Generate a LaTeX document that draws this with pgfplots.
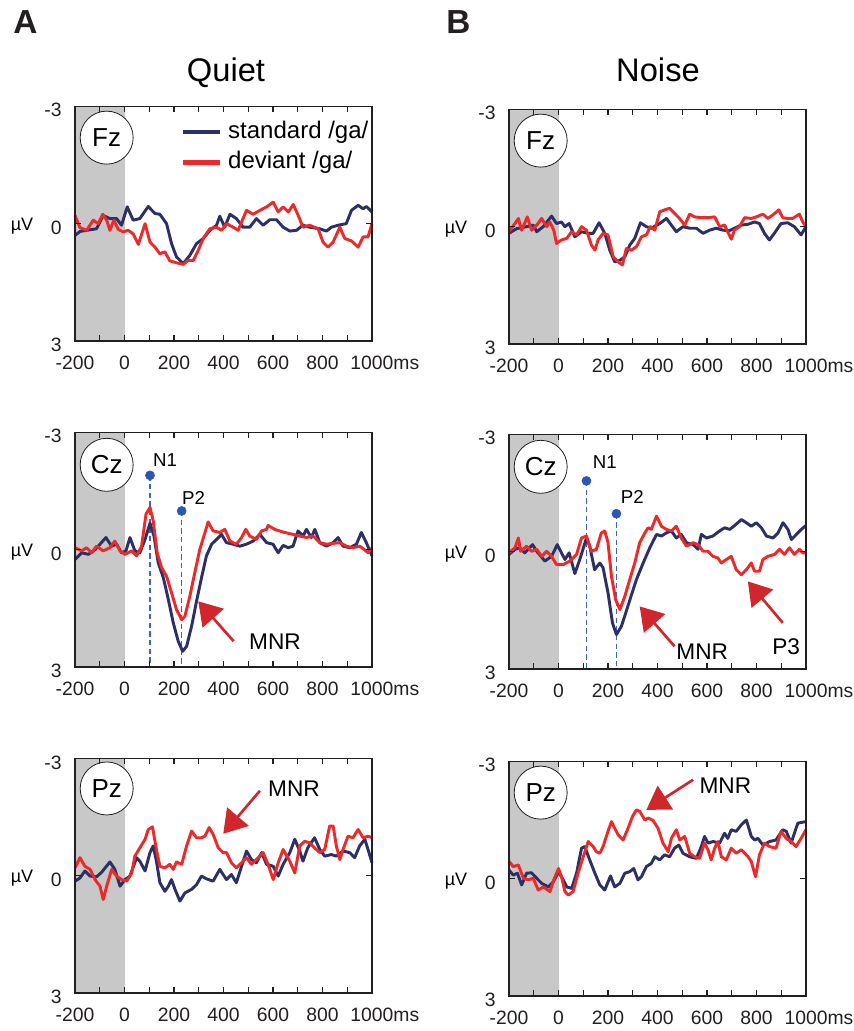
\documentclass[border=0pt]{standalone}
\usepackage{fontspec}
\setmainfont{Liberation Sans}
\usepackage{pgfplots}
\pgfplotsset{compat=1.18}
\usetikzlibrary{arrows.meta}
\definecolor{navy}{RGB}{44,48,102}
\definecolor{dred}{RGB}{237,41,41}
\definecolor{bggray}{RGB}{200,200,200}
\definecolor{dotblue}{RGB}{45,85,180}
\definecolor{dashblue}{RGB}{60,100,195}
\definecolor{arrred}{RGB}{210,38,45}
\definecolor{ink}{RGB}{35,31,32}

\pgfplotsset{
  erp/.style={
    scale only axis, width=222.75pt, height=176pt,
    xmin=-200, xmax=1000, ymin=-3, ymax=3, y dir=reverse,
    xtick={-200,0,...,1000},
    xticklabels={-200,0,200,400,600,800,1000\rlap{ms}},
    minor xtick={-100,100,...,900},
    ytick={-3,0,3}, yticklabels={-3,0,3},
    tick align=inside, major tick length=4.5pt, minor tick length=4.5pt,
    ticklabel style={font=\fontsize{14.5}{14.5}\selectfont, text=ink},
    xticklabel style={yshift=-8pt},
    yticklabel style={xshift=-6.5pt, yshift=-3pt},
    /pgf/number format/assume math mode=true,
    axis line style={line width=0.9pt, ink},
    tick style={line width=0.9pt, ink},
    axis on top, clip=false, anchor=south west,
  },
  std/.style={navy, line width=2.2pt, line join=round},
  dev/.style={dred, line width=2.2pt, line join=round},
  vline/.style={dashblue, line width=1.1pt, dash pattern=on 4pt off 2.5pt},
  vdot/.style={dotblue, only marks, mark=*, mark size=3.4pt, mark options={draw=dotblue, fill=dotblue}},
}
\tikzset{
  circ/.style={circle, draw=ink, line width=0.6pt, fill=white, minimum size=39.75pt, inner sep=0pt, font=\fontsize{19.5}{19.5}\selectfont},
  ann/.style={font=\fontsize{14}{14}\selectfont, inner sep=0pt},
  big/.style={font=\fontsize{17}{17}\selectfont, inner sep=0pt},
  leg/.style={font=\fontsize{18}{18}\selectfont, inner sep=0pt},
  arr/.style={arrred, line width=2pt, -{Triangle[length=17pt,width=21pt]}},
  uv/.style={font=\fontsize{13.5}{13.5}\selectfont, xshift=-39.75pt, yshift=-2pt},
}

\begin{document}
\begin{tikzpicture}
\useasboundingbox (0,0) rectangle (639.75pt,773.25pt);

\node[anchor=base west, font=\bfseries\fontsize{25}{25}\selectfont, inner sep=0pt, text=ink] at (9.75pt,747.75pt) {A};
\node[anchor=base west, font=\bfseries\fontsize{25}{25}\selectfont, inner sep=0pt, text=ink] at (334.5pt,747.75pt) {B};
\node[anchor=base, font=\fontsize{24.5}{24.5}\selectfont, inner sep=0pt] at (169.5pt,711.75pt) {Quiet};
\node[anchor=base, font=\fontsize{24.5}{24.5}\selectfont, inner sep=0pt] at (493.5pt,711.75pt) {Noise};

% ---------------- A top: Quiet Fz
\begin{axis}[erp, at={(56.25pt,517.5pt)}]
\fill[bggray] (axis cs:-200,-3) rectangle (axis cs:0,3);
\addplot[std] coordinates {(-200,0.3)(-180,0.2)(-153,0.17)(-113,0.13)(-86,-0.21)(-59,-0.13)(-32,-0.13)(-12,0.04)(11,-0.43)(35,-0.09)(62,-0.13)(96,-0.44)(123,-0.26)(143,-0.24)(170,0)(190,0.51)(210,0.85)(237,1.02)(264,0.81)(291,0.51)(318,0.38)(345,0.17)(372,0.04)(385,-0.19)(405,0.09)(426,-0.24)(452,-0.13)(479,0.09)(506,0.09)(533,-0.13)(560,0.04)(587,-0.1)(614,-0.1)(641,0.09)(668,0.19)(695,0.17)(721,0.04)(748,0.09)(789,0.13)(816,0.19)(836,0.09)(863,0.04)(896,0)(917,-0.34)(944,-0.47)(964,-0.38)(977,-0.44)(1000,-0.3)};
\addplot[dev] coordinates {(-200,-0.21)(-180,0.1)(-153,0.17)(-126,-0.09)(-106,0)(-88,-0.24)(-72,-0.09)(-59,0.17)(-43,-0.09)(-25,0.15)(-5,0.21)(15,0.17)(35,0.26)(56,0.53)(83,0)(103,0.47)(123,0.6)(143,0.77)(163,0.72)(183,0.95)(210,1.0)(237,1.04)(257,0.94)(278,0.94)(298,0.68)(318,0.38)(345,0.13)(372,0.09)(392,0.17)(412,0)(439,0.09)(459,0.17)(493,-0.34)(520,-0.24)(547,-0.34)(574,-0.43)(601,-0.55)(621,-0.3)(641,-0.43)(662,-0.3)(682,-0.49)(702,-0.21)(721,0.09)(748,0.04)(782,0.13)(802,0.47)(822,0.6)(843,0.47)(870,0.09)(890,0.38)(917,0.44)(944,0.6)(964,0.34)(984,0.34)(1000,0)};
\node[circ] at (axis cs:-72,-2.2) {Fz};
\node[uv] at (rel axis cs:0,0.5) {µV};
\draw[navy, line width=3.5pt] (axis cs:236,-2.34) -- (axis cs:386,-2.34);
\draw[dred, line width=3.5pt] (axis cs:236,-1.57) -- (axis cs:386,-1.57);
\node[leg, anchor=west] at (axis cs:418,-2.34) {standard /ga/};
\node[leg, anchor=west] at (axis cs:418,-1.57) {deviant /ga/};
\end{axis}

% ---------------- B top: Noise Fz
\begin{axis}[erp, at={(381.75pt,515.25pt)}]
\fill[bggray] (axis cs:-200,-3) rectangle (axis cs:0,3);
\addplot[std] coordinates {(-200,0.17)(-169,0.05)(-129,0)(-102,-0.04)(-88,0.13)(-62,0)(-28,-0.27)(-8,-0.08)(12,-0.12)(26,0)(43,-0.08)(66,0.26)(93,0.13)(120,0.17)(140,0.17)(164,-0.1)(187,0.17)(207,0.6)(227,0.9)(248,0.86)(268,0.77)(288,0.47)(308,0.3)(331,-0.1)(355,0)(375,0.04)(409,-0.08)(436,-0.21)(456,-0.04)(476,0.13)(503,0)(530,0.04)(557,0.04)(584,0.17)(610,0.09)(637,0.04)(664,0.09)(691,0.1)(711,0.04)(738,-0.04)(765,-0.06)(792,-0.12)(812,-0.08)(832,0.17)(852,0.34)(872,0.17)(899,-0.08)(926,-0.1)(953,0)(980,0.21)(1000,0)};
\addplot[dev] coordinates {(-200,0.13)(-176,-0.08)(-162,-0.21)(-149,0.09)(-126,-0.25)(-109,0.09)(-88,-0.04)(-68,-0.21)(-48,0)(-35,-0.12)(-19,0.09)(-8,0.43)(12,0.34)(33,0.3)(53,0.13)(73,0.21)(93,0)(113,0.09)(133,0.47)(147,0.6)(160,0.34)(180,0.17)(200,0.21)(221,0.77)(241,0.9)(258,0.98)(274,0.56)(295,0.6)(315,0.51)(335,0.26)(355,0.21)(371,0)(389,0.09)(409,-0.38)(429,-0.43)(449,-0.47)(469,-0.34)(489,-0.21)(510,-0.04)(530,-0.32)(550,-0.25)(577,-0.23)(604,-0.23)(631,-0.25)(651,0)(671,-0.04)(698,0.32)(711,0.09)(731,0)(752,-0.23)(779,-0.21)(799,-0.25)(826,-0.32)(846,-0.21)(866,-0.3)(890,-0.43)(906,-0.23)(926,-0.21)(946,-0.21)(973,-0.32)(987,-0.12)(1000,0)};
\node[circ] at (axis cs:-72,-2.2) {Fz};
\node[uv] at (rel axis cs:0,0.5) {µV};
\end{axis}

% ---------------- A middle: Quiet Cz
\begin{axis}[erp, at={(56.25pt,273pt)}]
\fill[bggray] (axis cs:-200,-3) rectangle (axis cs:0,3);
\addplot[vline] coordinates {(103,-1.9)(103,3)};
\addplot[vline] coordinates {(231,-0.99)(231,3)};
\addplot[std] coordinates {(-200,0.25)(-173,0.08)(-146,0.12)(-119,0)(-99,-0.14)(-75,-0.31)(-52,-0.09)(-32,-0.14)(-12,0.08)(6,0.03)(22,-0.31)(42,0.03)(62,0.08)(83,-0.26)(103,-0.68)(119,-0.35)(136,0.33)(157,0.72)(177,1.27)(197,1.87)(217,2.34)(235,2.6)(251,2.47)(271,1.96)(291,1.32)(311,0.72)(331,0.16)(352,-0.14)(372,-0.26)(392,-0.39)(412,-0.18)(439,-0.14)(466,-0.09)(493,-0.14)(520,-0.22)(547,-0.39)(574,-0.18)(600,-0.14)(621,0.08)(641,-0.11)(661,-0.05)(681,-0.09)(701,-0.48)(722,-0.35)(735,-0.52)(755,-0.31)(769,-0.52)(789,-0.18)(816,-0.09)(843,-0.18)(863,-0.31)(883,-0.09)(910,-0.05)(937,-0.14)(957,-0.44)(977,-0.18)(1000,0.16)};
\addplot[dev] coordinates {(-200,-0.05)(-173,0.03)(-153,-0.05)(-133,0.08)(-113,-0.09)(-86,0.03)(-59,-0.05)(-39,-0.22)(-18,0.03)(2,0.12)(29,0.03)(49,0.16)(69,-0.09)(87,-0.91)(103,-1.08)(116,-0.74)(132,0.08)(150,0.46)(170,0.68)(190,1.1)(210,1.53)(231,1.79)(244,1.7)(264,1.19)(284,0.59)(304,0)(321,-0.35)(338,-0.71)(358,-0.48)(385,-0.44)(405,-0.52)(426,-0.22)(452,-0.14)(473,-0.31)(490,-0.52)(506,-0.35)(533,-0.26)(554,-0.48)(574,-0.52)(580,-0.62)(607,-0.52)(641,-0.45)(681,-0.39)(708,-0.35)(735,-0.31)(762,-0.35)(789,-0.18)(816,-0.14)(843,-0.16)(870,-0.18)(896,-0.09)(923,-0.05)(950,-0.09)(970,0)(984,0.08)(1000,-0.05)};
\addplot[vdot] coordinates {(103,-1.9)(231,-0.99)};
\node[ann, anchor=west] at (axis cs:115,-2.28) {N1};
\node[ann, anchor=west] at (axis cs:232,-1.33) {P2};
\draw[arr] (axis cs:441,2.34) -- (axis cs:298,1.32);
\node[big] at (axis cs:608,2.36) {MNR};
\node[circ] at (axis cs:-72,-2.17) {Cz};
\node[uv] at (rel axis cs:0,0.5) {µV};
\end{axis}

% ---------------- B middle: Noise Cz
\begin{axis}[erp, at={(381.75pt,271.5pt)}]
\fill[bggray] (axis cs:-200,-3) rectangle (axis cs:0,3);
\addplot[vline] coordinates {(113,-1.81)(113,3)};
\addplot[vline] coordinates {(234,-0.97)(234,3)};
\addplot[std] coordinates {(-200,0.07)(-176,-0.06)(-156,-0.1)(-136,0.03)(-105,-0.18)(-88,-0.01)(-55,0.24)(-28,0.12)(-5,-0.18)(12,0.03)(26,0.2)(43,0.03)(66,0.56)(86,0.2)(113,-0.35)(126,-0.14)(146,0.46)(167,0.29)(180,0.41)(200,1.05)(218,1.82)(234,2.12)(254,1.91)(274,1.52)(295,1.1)(315,0.71)(342,0.29)(369,-0.1)(396,-0.44)(416,-0.4)(436,-0.48)(456,-0.53)(476,-0.35)(496,-0.44)(517,-0.23)(544,-0.18)(564,-0.06)(577,-0.44)(598,-0.35)(624,-0.4)(651,-0.53)(671,-0.61)(692,-0.57)(712,-0.67)(739,-0.82)(759,-0.74)(779,-0.65)(799,-0.74)(820,-0.61)(840,-0.4)(867,-0.35)(887,-0.48)(907,-0.74)(927,-0.57)(941,-0.31)(961,-0.44)(981,-0.57)(1000,-0.67)};
\addplot[dev] coordinates {(-200,0.03)(-176,-0.1)(-162,-0.35)(-153,-0.01)(-129,-0.14)(-109,-0.01)(-88,-0.06)(-68,0.12)(-48,-0.01)(-28,0.12)(-8,0.33)(19,0.33)(46,0.24)(73,0.07)(93,-0.35)(113,-0.4)(133,-0.01)(153,-0.06)(173,-0.48)(187,-0.53)(200,-0.23)(214,0.63)(231,1.23)(248,1.48)(268,1.14)(288,0.71)(308,0.29)(328,-0.23)(349,-0.48)(362,-0.61)(375,-0.57)(396,-0.91)(416,-0.65)(436,-0.57)(456,-0.53)(476,-0.65)(496,-0.35)(517,-0.14)(544,-0.23)(564,-0.18)(584,-0.01)(604,-0.01)(624,0.12)(644,0.16)(658,0.29)(678,0.2)(698,0.12)(718,0.46)(739,0.59)(759,0.46)(779,0.29)(792,0.5)(812,0.5)(826,0.2)(846,0.12)(873,0.07)(893,-0.06)(913,0.07)(933,-0.1)(953,0.07)(973,-0.06)(987,0.03)(1000,0.03)};
\addplot[vdot] coordinates {(113,-1.81)(234,-0.97)};
\node[ann, anchor=west] at (axis cs:138,-2.28) {N1};
\node[ann, anchor=west] at (axis cs:251,-1.41) {P2};
\draw[arr] (axis cs:469,2.42) -- (axis cs:328,1.4);
\node[big] at (axis cs:581,2.56) {MNR};
\draw[arr] (axis cs:906,1.82) -- (axis cs:765,0.76);
\node[big] at (axis cs:920,2.44) {P3};
\node[circ] at (axis cs:-72,-2.17) {Cz};
\node[uv] at (rel axis cs:0,0.5) {µV};
\end{axis}

% ---------------- A bottom: Quiet Pz
\begin{axis}[erp, at={(56.25pt,28.5pt)}]
\fill[bggray] (axis cs:-200,-3) rectangle (axis cs:0,3);
\addplot[std] coordinates {(-200,0.14)(-180,0.06)(-160,-0.12)(-139,0.01)(-113,0.03)(-92,-0.09)(-59,-0.35)(-39,-0.16)(-18,0.27)(2,0.1)(22,0.01)(49,-0.46)(62,-0.37)(83,-0.12)(103,-0.59)(116,-0.76)(129,-0.37)(143,0.18)(163,0.4)(177,0.27)(190,0.1)(204,0.35)(224,0.65)(244,0.44)(271,0.35)(291,0.23)(311,0.01)(331,0.08)(358,0.14)(385,-0.16)(412,0.1)(432,-0.03)(452,0.18)(473,-0.24)(493,-0.63)(513,-0.41)(533,-0.33)(554,-0.59)(574,-0.29)(601,-0.24)(621,0.01)(641,-0.29)(668,-0.59)(688,-0.93)(708,-0.63)(721,-0.37)(741,-0.72)(768,-0.97)(789,-0.67)(809,-0.5)(836,-0.54)(856,-0.5)(883,-0.63)(910,-0.59)(930,-0.46)(950,-0.76)(971,-0.93)(984,-0.67)(1000,-0.33)};
\addplot[dev] coordinates {(-200,-0.2)(-180,-0.46)(-160,-0.24)(-139,-0.16)(-119,0.1)(-99,0.27)(-86,0.61)(-72,0.27)(-52,-0.16)(-32,0.01)(-12,0.1)(9,0.14)(29,-0.07)(42,-0.5)(62,-0.71)(83,-0.93)(96,-1.18)(113,-1.25)(129,-0.67)(143,-0.24)(163,-0.2)(183,-0.29)(197,-0.16)(210,-0.35)(231,-0.29)(251,-0.76)(271,-1.14)(291,-0.97)(311,-0.97)(325,-1.01)(342,-1.23)(358,-1.06)(379,-0.71)(398,-0.59)(412,-0.59)(432,-0.33)(452,-0.2)(473,-0.33)(493,-0.46)(513,-0.29)(533,-0.41)(560,-0.59)(580,-0.29)(601,0.1)(621,-0.33)(641,-0.67)(668,-0.37)(688,-0.07)(708,-0.76)(728,-0.88)(748,-0.84)(768,-0.71)(789,-0.59)(809,-0.67)(829,-1.27)(843,-1.27)(856,-0.76)(870,-0.41)(883,-0.67)(903,-1.01)(923,-0.97)(944,-1.18)(964,-0.97)(984,-1.01)(1000,-0.97)};
\draw[arr] (axis cs:547,-2.17) -- (axis cs:399,-1.07);
\node[big] at (axis cs:685,-2.23) {MNR};
\node[circ] at (axis cs:-72,-2.23) {Pz};
\node[uv] at (rel axis cs:0,0.5) {µV};
\end{axis}

% ---------------- B bottom: Noise Pz
\begin{axis}[erp, at={(381.75pt,26.25pt)}]
\fill[bggray] (axis cs:-200,-3) rectangle (axis cs:0,3);
\addplot[std] coordinates {(-200,-0.22)(-183,-0.09)(-166,-0.14)(-149,0.16)(-129,-0.14)(-109,-0.15)(-88,-0.01)(-68,0.12)(-41,0.21)(-21,0.08)(0,-0.18)(19,0.03)(33,0.21)(53,0.25)(73,-0.14)(93,-0.78)(106,-0.82)(126,-0.48)(147,-0.14)(167,0.16)(187,0.29)(210,-0.07)(227,0.21)(248,0.12)(268,-0.14)(288,-0.18)(304,-0.26)(321,0.03)(335,-0.05)(355,-0.31)(375,-0.39)(389,-0.56)(409,-0.48)(429,-0.61)(449,-0.56)(469,-0.78)(486,-0.86)(503,-0.65)(530,-0.56)(557,-0.52)(577,-0.82)(590,-1.08)(604,-0.91)(624,-0.95)(651,-0.91)(671,-1.16)(684,-1.03)(698,-1.25)(718,-1.21)(739,-1.38)(759,-1.5)(779,-1.08)(792,-0.99)(806,-1.03)(826,-0.86)(853,-0.95)(879,-0.99)(906,-1.25)(920,-1.21)(940,-0.91)(953,-1.16)(967,-1.42)(1000,-1.46)};
\addplot[dev] coordinates {(-200,-0.44)(-183,-0.31)(-162,-0.35)(-142,-0.01)(-122,0.03)(-102,-0.01)(-82,0.29)(-61,0.21)(-35,0.33)(-19,0.03)(0,-0.26)(12,-0.05)(26,0.33)(39,0.42)(59,0.33)(79,-0.14)(100,-0.56)(120,-0.95)(140,-0.82)(153,-0.69)(167,-0.65)(180,-0.82)(200,-1.21)(214,-1.46)(227,-1.29)(241,-1.12)(261,-0.99)(281,-1.29)(299,-1.59)(315,-1.76)(328,-1.72)(349,-1.5)(362,-1.55)(382,-1.49)(402,-1.29)(422,-0.91)(443,-0.69)(456,-1.03)(476,-1.25)(490,-0.99)(510,-1.08)(530,-0.65)(550,-0.56)(570,-0.52)(590,-0.91)(604,-0.74)(617,-0.48)(631,-0.78)(644,-0.95)(658,-0.56)(678,-0.48)(698,-0.78)(718,-0.65)(739,-0.74)(766,-0.56)(779,-0.44)(796,-0.05)(812,-0.61)(832,-0.91)(853,-0.82)(879,-0.78)(899,-1.21)(920,-1.03)(940,-0.95)(960,-0.82)(980,-1.03)(1000,-1.25)};
\draw[arr] (axis cs:544,-2.53) -- (axis cs:355,-1.76);
\node[big] at (axis cs:674,-2.38) {MNR};
\node[circ] at (axis cs:-72,-2.2) {Pz};
\node[uv] at (rel axis cs:0,0.5) {µV};
\end{axis}
\end{tikzpicture}
\end{document}
